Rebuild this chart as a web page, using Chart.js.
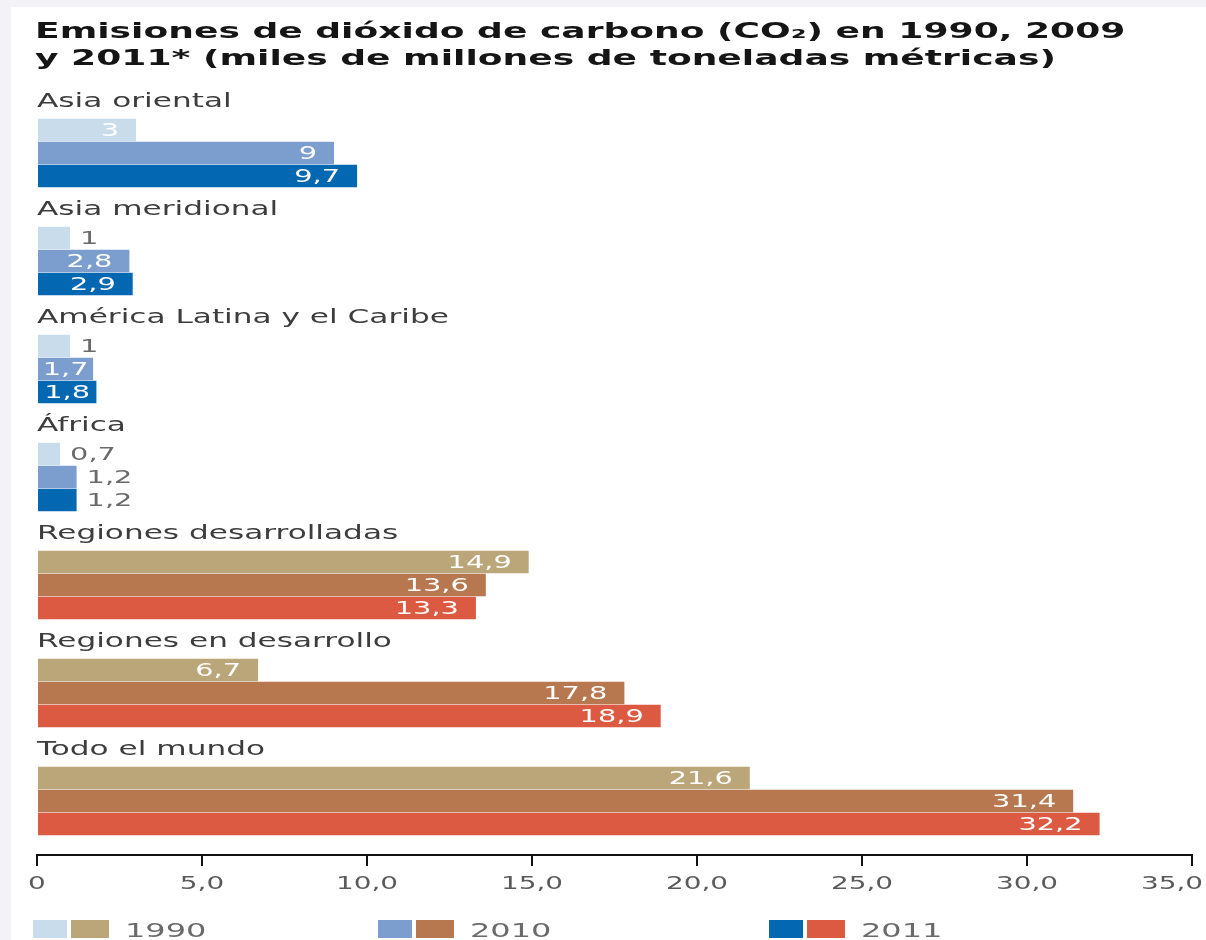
<!DOCTYPE html>
<html>
<head>
<meta charset="utf-8">
<script src="https://cdn.jsdelivr.net/npm/chart.js@4.4.1/dist/chart.umd.min.js"></script>
<style>
  html, body { margin: 0; padding: 0; background: #f3f2f7; }
  #co2 { display: block; }
</style>
</head>
<body>
<canvas id="co2" width="1206" height="940"></canvas>
<script>
// data
const regions = ['Asia oriental', 'Asia meridional', 'América Latina y el Caribe', 'África',
                 'Regiones desarrolladas', 'Regiones en desarrollo', 'Todo el mundo'];
const years = ['1990', '2010', '2011'];
const v1990 = [3, 1, 1, 0.7, 14.9, 6.7, 21.6];
const v2010 = [9, 2.8, 1.7, 1.2, 13.6, 17.8, 31.4];
const v2011 = [9.7, 2.9, 1.8, 1.2, 13.3, 18.9, 32.2];
const xTicks = [0, 5, 10, 15, 20, 25, 30, 35];
const titleLines = ['Emisiones de dióxido de carbono (CO₂) en 1990, 2009',
                    'y 2011* (miles de millones de toneladas métricas)'];

const coolColors = ['#c9dceb', '#7b9ecf', '#0467b1'];
const warmColors = ['#bba679', '#b77850', '#dc5942'];
const nCool = 4; // first four regions are drawn in blues

const FONT = "'DejaVu Sans', sans-serif";
const STRETCH = 1.64; // the source text is set very wide

function fmt(v) {
  if (v === 0) return '0';
  return String(v).replace('.', ',');
}
function fmtTick(v) {
  return v === 0 ? '0' : v.toFixed(1).replace('.', ',');
}

// draw text stretched horizontally
function wideText(ctx, text, x, y, align, sx) {
  ctx.save();
  ctx.translate(x, y);
  ctx.scale(sx, 1);
  ctx.textAlign = align;
  ctx.fillText(text, 0, 0);
  ctx.restore();
}
function wideWidth(ctx, text, sx) {
  return ctx.measureText(text).width * sx;
}

const bgPlugin = {
  id: 'bg',
  beforeDraw(chart) {
    const ctx = chart.ctx;
    ctx.save();
    ctx.fillStyle = '#f3f2f7';
    ctx.fillRect(0, 0, chart.width, chart.height);
    ctx.fillStyle = '#ffffff';
    ctx.fillRect(11, 7, chart.width - 11, chart.height - 7);
    ctx.restore();
  }
};

const textPlugin = {
  id: 'texts',
  afterDraw(chart) {
    const ctx = chart.ctx;
    const xs = chart.scales.x;
    const area = chart.chartArea;
    ctx.save();

    // title
    ctx.fillStyle = '#151515';
    ctx.font = 'bold 22px ' + FONT;
    ctx.textBaseline = 'alphabetic';
    wideText(ctx, titleLines[0], 35, 38, 'left', STRETCH);
    wideText(ctx, titleLines[1], 35, 65, 'left', STRETCH);

    // group labels above each set of bars
    ctx.font = '19px ' + FONT;
    ctx.fillStyle = '#3d3d3d';
    const meta0 = chart.getDatasetMeta(0);
    meta0.data.forEach((bar, i) => {
      const top = bar.y - bar.height / 2;
      wideText(ctx, regions[i], area.left, top - 12, 'left', STRETCH);
    });

    // value labels
    ctx.font = '18px ' + FONT;
    ctx.textBaseline = 'middle';
    chart.data.datasets.forEach((ds, d) => {
      chart.getDatasetMeta(d).data.forEach((bar, i) => {
        const v = ds.data[i];
        const s = fmt(v);
        const w = wideWidth(ctx, s, 1.6);
        const barW = bar.x - bar.base;
        if (v < 1.5) {
          ctx.fillStyle = '#6a6a6a';
          wideText(ctx, s, bar.x + 10, bar.y + 1, 'left', 1.6);
        } else {
          const pad = Math.min(17, (barW - w) / 2);
          ctx.fillStyle = '#ffffff';
          wideText(ctx, s, bar.x - pad, bar.y + 1, 'right', 1.6);
        }
      });
    });

    // x tick labels (last one kept inside the picture)
    ctx.font = '18px ' + FONT;
    ctx.fillStyle = '#5a5a5a';
    ctx.textBaseline = 'alphabetic';
    xTicks.forEach(t => {
      const s = fmtTick(t);
      const px = xs.getPixelForValue(t);
      const w = wideWidth(ctx, s, 1.55);
      if (px + w / 2 > chart.width - 3) {
        wideText(ctx, s, chart.width - 3, 889, 'right', 1.55);
      } else {
        wideText(ctx, s, px, 889, 'center', 1.55);
      }
    });

    // legend: one blue and one warm swatch per year
    const legendX = [33, 378, 769];
    ctx.font = '20px ' + FONT;
    years.forEach((y, i) => {
      const x0 = legendX[i];
      ctx.fillStyle = coolColors[i];
      ctx.fillRect(x0, 920, 34, 18);
      ctx.fillStyle = warmColors[i];
      ctx.fillRect(x0 + 38, 920, 38, 18);
      ctx.fillStyle = '#6a6a6a';
      wideText(ctx, y, x0 + 92, 937, 'left', 1.6);
    });

    ctx.restore();
  }
};

const series = [v1990, v2010, v2011];

new Chart(document.getElementById('co2'), {
  type: 'bar',
  data: {
    labels: regions,
    datasets: series.map((vals, i) => ({
      label: years[i],
      data: vals,
      backgroundColor: regions.map((r, j) => j < nCool ? coolColors[i] : warmColors[i]),
      borderWidth: 0,
      categoryPercentage: 0.64,
      barPercentage: 0.97
    }))
  },
  options: {
    indexAxis: 'y',
    responsive: false,
    animation: false,
    devicePixelRatio: 1,
    layout: { padding: { left: 37, right: 14, top: 99, bottom: 0 } },
    plugins: {
      legend: { display: false },
      tooltip: { enabled: false },
      title: { display: false }
    },
    scales: {
      x: {
        type: 'linear',
        min: 0,
        max: 35,
        ticks: { display: false, stepSize: 5 },
        grid: { drawOnChartArea: false, drawTicks: true, tickLength: 11, color: '#111', lineWidth: 2 },
        border: { display: true, color: '#111', width: 2 },
        afterFit(s) { s.height = 85; }
      },
      y: {
        display: false,
        grid: { display: false }
      }
    }
  },
  plugins: [bgPlugin, textPlugin]
});
</script>
</body>
</html>
